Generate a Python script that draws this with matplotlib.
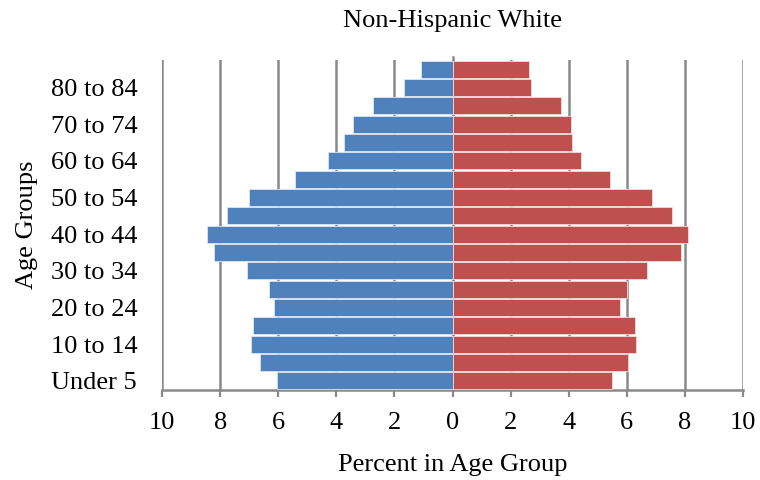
import matplotlib.pyplot as plt
import numpy as np

# Age groups from youngest to oldest, percent of the population in each
age_groups = ['Under 5', '5 to 9', '10 to 14', '15 to 19', '20 to 24', '25 to 29',
              '30 to 34', '35 to 39', '40 to 44', '45 to 49', '50 to 54', '55 to 59',
              '60 to 64', '65 to 69', '70 to 74', '75 to 79', '80 to 84', '85+']
male = [6.04, 6.64, 6.95, 6.86, 6.15, 6.33, 7.06, 8.22, 8.45, 7.78, 7.00, 5.41,
        4.27, 3.75, 3.42, 2.73, 1.67, 1.10]
female = [5.49, 6.03, 6.30, 6.27, 5.77, 6.00, 6.68, 7.88, 8.12, 7.55, 6.86, 5.43,
          4.43, 4.10, 4.09, 3.72, 2.70, 2.63]
xticks = [-10, -8, -6, -4, -2, 0, 2, 4, 6, 8, 10]

plt.rcParams['font.family'] = ['Liberation Serif', 'DejaVu Serif']

fig = plt.figure(figsize=(7.6, 4.8), dpi=100)
fig.patch.set_fc('white')
ax = fig.add_axes([0.2132, 0.1875, 0.9776 - 0.2132, 0.875 - 0.1875])

grid_color = '#898989'
y = np.arange(len(age_groups))
ax.barh(y, [-v for v in male], height=0.92, color='#4F81BD',
        edgecolor='#DCE6F2', linewidth=0.6, zorder=3)
ax.barh(y, female, height=0.92, color='#C0504D',
        edgecolor='#F2DCDB', linewidth=0.6, zorder=3)

ax.set_xlim(-10, 10)
ax.set_ylim(-0.5, len(age_groups) - 0.5)

for xv in xticks:
    ax.axvline(xv, color=grid_color, linewidth=1.8, zorder=1)
ax.axvline(0, ymin=0, ymax=1.01, color=grid_color, linewidth=1.8, zorder=2,
           clip_on=False)

for side in ['top', 'right', 'left']:
    ax.spines[side].set_visible(False)
ax.spines['bottom'].set_color(grid_color)
ax.spines['bottom'].set_linewidth(1.8)

ax.set_xticks(xticks)
ax.set_xticklabels([str(abs(v)) for v in xticks], fontsize=19)
ax.tick_params(axis='x', direction='out', length=5, width=1.6,
               color=grid_color, pad=11)

# category labels sit centred in a box left of the plot
ax.set_yticks(y[::2])
ax.set_yticklabels(age_groups[::2], fontsize=19, ha='center')
ax.tick_params(axis='y', length=0, pad=49)

ax.set_title('Non-Hispanic White', fontsize=19, pad=24)
ax.set_xlabel('Percent in Age Group', fontsize=19, labelpad=14)
ax.set_ylabel('Age Groups', fontsize=19, labelpad=9)

fig.savefig('out.png', dpi=100, facecolor='white')
